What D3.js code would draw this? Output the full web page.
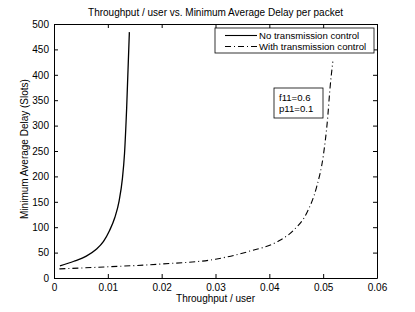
<!DOCTYPE html>
<html>
<head>
<meta charset="utf-8">
<script src="https://cdn.jsdelivr.net/npm/d3@7"></script>
<style>
  body { margin: 0; background: #fff; }
  text { font-family: "Liberation Sans", Arial, sans-serif; fill: #000; }
</style>
</head>
<body>
<script>
var width = 415,
    height = 312;

var margin = {top: 24, right: 38, bottom: 34, left: 54};
var w = width - margin.left - margin.right,
    h = height - margin.top - margin.bottom;

// data
var noControlX = [0.0011, 0.0037, 0.0060, 0.0078, 0.0092, 0.0103, 0.0113, 0.0121, 0.0127, 0.0131, 0.0135, 0.0140];
var noControlY = [24, 33, 43, 56, 72, 93, 119, 152, 195, 245, 335, 484];
var withControlX = [0.001, 0.01, 0.02, 0.03, 0.0364, 0.0414, 0.0445, 0.0469, 0.0488, 0.05, 0.0508, 0.0513, 0.0518];
var withControlY = [18, 22, 27.6, 37, 53, 71, 94, 127, 180, 239, 311, 377, 426];
var xTicks = [0, 0.01, 0.02, 0.03, 0.04, 0.05, 0.06];
var yTicks = [0, 50, 100, 150, 200, 250, 300, 350, 400, 450, 500];
var seriesNames = ["No transmission control", "With transmission control"];
var noteLines = ["f11=0.6", "p11=0.1"];

var svg = d3.select("body").append("svg")
    .attr("width", width)
    .attr("height", height);

var x = d3.scaleLinear().domain([0, 0.06]).range([0, w]);
var y = d3.scaleLinear().domain([0, 500]).range([h, 0]);

var g = svg.append("g")
    .attr("transform", "translate(" + margin.left + "," + margin.top + ")");

// axes, ticks point inward like matlab
var fmtX = function(d) { return d === 0 ? "0" : d3.format(".2f")(d); };

g.append("g")
    .attr("transform", "translate(0," + h + ")")
    .call(d3.axisBottom(x).tickValues(xTicks).tickFormat(fmtX).tickSizeInner(-4).tickSizeOuter(0).tickPadding(6));
g.append("g")
    .call(d3.axisTop(x).tickValues(xTicks).tickFormat("").tickSizeInner(-4).tickSizeOuter(0));
g.append("g")
    .call(d3.axisLeft(y).tickValues(yTicks).tickSizeInner(-4).tickSizeOuter(0).tickPadding(5));
g.append("g")
    .attr("transform", "translate(" + w + ",0)")
    .call(d3.axisRight(y).tickValues(yTicks).tickFormat("").tickSizeInner(-4).tickSizeOuter(0));

g.selectAll(".domain").attr("stroke", "#000").attr("stroke-width", 1);
g.selectAll(".tick line").attr("stroke", "#000");
g.selectAll(".tick text").style("font-size", "10px").attr("fill", "#000");

var line = d3.line()
    .x(function(d) { return x(d[0]); })
    .y(function(d) { return y(d[1]); })
    .curve(d3.curveMonotoneX);

g.append("path")
    .datum(d3.zip(noControlX, noControlY))
    .attr("fill", "none")
    .attr("stroke", "#000")
    .attr("stroke-width", 1.3)
    .attr("d", line);

g.append("path")
    .datum(d3.zip(withControlX, withControlY))
    .attr("fill", "none")
    .attr("stroke", "#000")
    .attr("stroke-width", 1.1)
    .attr("stroke-dasharray", "6,3,1,3")
    .attr("d", line);

// legend
var legend = g.append("g").attr("transform", "translate(" + (215 - margin.left) + "," + (28 - margin.top) + ")");
legend.append("rect")
    .attr("width", 159).attr("height", 25)
    .attr("fill", "#fff").attr("stroke", "#000").attr("stroke-width", 0.8);
seriesNames.forEach(function(name, i) {
  var ly = 7.5 + i * 11;
  legend.append("line")
      .attr("x1", 10).attr("x2", 42).attr("y1", ly).attr("y2", ly)
      .attr("stroke", "#000")
      .attr("stroke-width", 1.1)
      .attr("stroke-dasharray", i === 0 ? null : "6,3,1,3");
  legend.append("text")
      .attr("x", 44).attr("y", ly + 3.5)
      .style("font-size", "9.6px")
      .text(name);
});

// annotation box
var note = g.append("g").attr("transform", "translate(" + (274 - margin.left) + "," + (88 - margin.top) + ")");
note.append("rect")
    .attr("width", 49).attr("height", 30)
    .attr("fill", "#fff").attr("stroke", "#000").attr("stroke-width", 0.8);
noteLines.forEach(function(t, i) {
  note.append("text")
      .attr("x", 5).attr("y", 12.5 + i * 11)
      .style("font-size", "9.6px")
      .text(t);
});

// title and labels
svg.append("text")
    .attr("x", margin.left + w / 2).attr("y", 16)
    .attr("text-anchor", "middle")
    .style("font-size", "10px")
    .text("Throughput / user vs. Minimum Average Delay per packet");

svg.append("text")
    .attr("x", margin.left + w / 2).attr("y", 302)
    .attr("text-anchor", "middle")
    .style("font-size", "10px")
    .text("Throughput / user");

svg.append("text")
    .attr("transform", "translate(28," + (margin.top + h / 2 - 2) + ") rotate(-90)")
    .attr("text-anchor", "middle")
    .style("font-size", "10px")
    .text("Minimum Average Delay (Slots)");
</script>
</body>
</html>
